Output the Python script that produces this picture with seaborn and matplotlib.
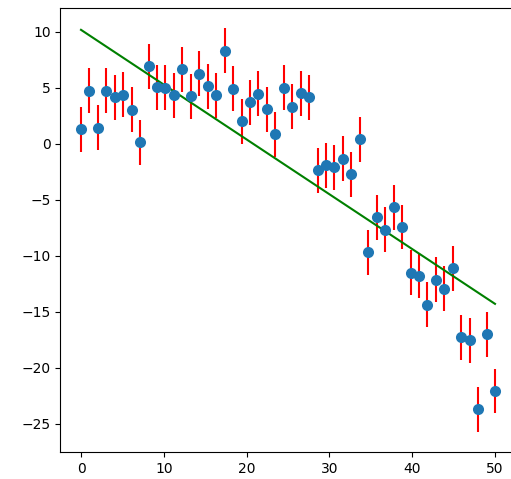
import numpy as np
import pandas as pd
import matplotlib
matplotlib.use("Agg")
import matplotlib.pyplot as plt
import seaborn as sns

x_vals = list(np.linspace(0, 50, 50))
y_vals = [1.31, 4.76, 1.43, 4.76, 4.17, 4.40, 3.04, 0.15, 6.93, 5.06,
          5.03, 4.32, 6.67, 4.25, 6.25, 5.12, 4.35, 8.33, 4.91, 2.02,
          3.72, 4.46, 3.10, 0.86, 5.00, 3.33, 4.52, 4.17, -2.38, -1.90,
          -2.08, -1.34, -2.71, 0.42, -9.67, -6.55, -7.68, -5.68, -7.42, -11.50,
          -11.77, -14.35, -12.14, -12.92, -11.13, -17.26, -17.56, -23.72, -17.02, -22.08]
y_err = [2.0] * 50
fit_x = [0, 50]
fit_y = [10.18, -14.29]

df = pd.DataFrame({"x": x_vals, "y": y_vals})
fit_df = pd.DataFrame({"x": fit_x, "y": fit_y})

fig = plt.figure(figsize=(5.11, 4.79), dpi=100)
ax = fig.add_axes([60.3 / 511, 1 - 452 / 479, (515.7 - 60.3) / 511, (452 - 8) / 479])

ax.errorbar(x_vals, y_vals, yerr=y_err, fmt="none", ecolor="red", elinewidth=1.5, zorder=1)
sns.lineplot(data=fit_df, x="x", y="y", color="green", linewidth=1.5, ax=ax, zorder=2)
sns.scatterplot(data=df, x="x", y="y", color="#1f77b4", s=64, linewidth=0, ax=ax, zorder=3)

ax.set_xlabel("")
ax.set_ylabel("")
ax.set_xticks([0, 10, 20, 30, 40, 50])
ax.set_yticks([10, 5, 0, -5, -10, -15, -20, -25])
ax.set_xlim(-2.5, 52.5)
ax.set_ylim(-27.52, 12.13)
ax.tick_params(labelsize=10)

fig.savefig("out.png", dpi=100)
